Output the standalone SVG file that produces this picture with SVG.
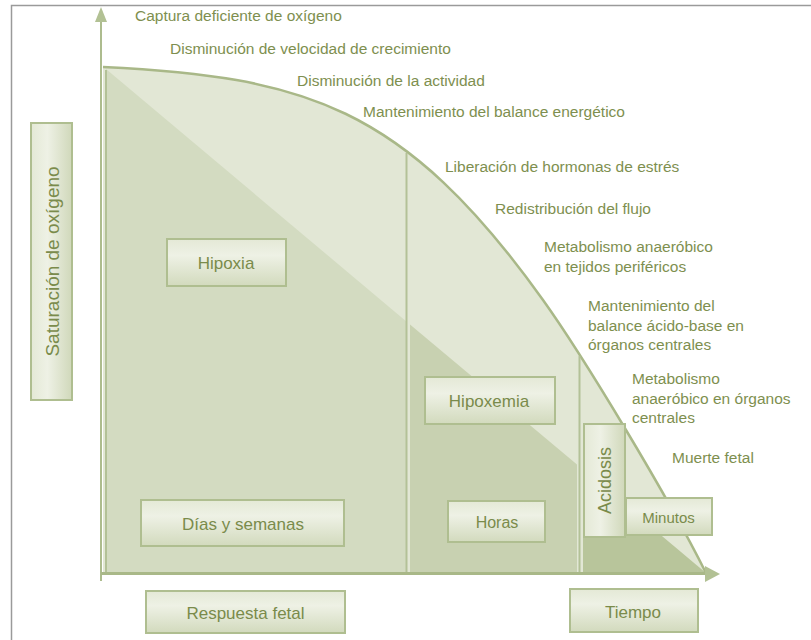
<svg xmlns="http://www.w3.org/2000/svg" width="811" height="640" viewBox="0 0 811 640">
  <defs>
    <linearGradient id="gH" x1="0" y1="0" x2="0" y2="1">
      <stop offset="0" stop-color="#e4e9d6"/>
      <stop offset="0.35" stop-color="#eef1e5"/>
      <stop offset="1" stop-color="#d2dabd"/>
    </linearGradient>
    <linearGradient id="gV" x1="0" y1="0" x2="1" y2="0">
      <stop offset="0" stop-color="#e4e9d6"/>
      <stop offset="0.4" stop-color="#eef1e5"/>
      <stop offset="1" stop-color="#d0d8ba"/>
    </linearGradient>
  </defs>
  <style>
    .note { font-family: "Liberation Sans", Arial, sans-serif; font-size: 15.5px; fill: #7e8f4f; }
    .lbl { font-family: "Liberation Sans", Arial, sans-serif; font-size: 17px; fill: #7a8b4b; text-anchor: middle; }
    .boxh { fill: url(#gH); stroke: #afbe90; stroke-width: 2; }
    .boxv { fill: url(#gV); stroke: #afbe90; stroke-width: 2; }
    .sep { stroke: #b3c197; stroke-width: 2; fill: none; }
    .curve { stroke: #a9b888; stroke-width: 2.5; fill: none; }
    .head { fill: #b2c194; }
  </style>

  <rect width="811" height="640" fill="#ffffff"/>
  <!-- frame -->
  <path d="M11.5,640 L11.5,5.5 L811,5.5" fill="none" stroke="#9a9a9a" stroke-width="1.5"/>

  <!-- shaded areas -->
  <g id="areas">
    <path d="M103,67 C303,77 403,104 543,300 C583,356 666,493 706,573 L103,573 Z" fill="#e2e7d5"/>
    <polygon points="106,69 407,322 407,573 106,573" fill="#d3dbc1"/>
    <polygon points="410,324.4 577,464.6 577,573 410,573" fill="#c8d1b1"/>
    <polygon points="583,469.7 706,573 583,573" fill="#b8c59b"/>
  </g>

  <g id="connectors">
    <path class="curve" d="M103,67 C303,77 403,104 543,300 C583,356 666,493 706,573"/>
    <line class="sep" x1="106" y1="70" x2="106" y2="573" stroke="#a5b582"/>
    <line class="sep" x1="406.5" y1="153" x2="406.5" y2="573"/>
    <line class="sep" x1="579.5" y1="356" x2="579.5" y2="573"/>
    <line x1="101" y1="581" x2="101" y2="20" stroke="#adbc8e" stroke-width="2"/>
    <polygon class="head" points="101,7 95,22 107,22"/>
    <line x1="101" y1="573.5" x2="706" y2="573.5" stroke="#a9b888" stroke-width="3"/>
    <polygon class="head" points="720,574 705,566 705,582"/>
  </g>

  <g id="notes">
    <text class="note" x="135" y="21">Captura deficiente de oxígeno</text>
    <text class="note" x="170" y="54">Disminución de velocidad de crecimiento</text>
    <text class="note" x="297" y="86">Disminución de la actividad</text>
    <text class="note" x="363" y="117">Mantenimiento del balance energético</text>
    <text class="note" x="445" y="172">Liberación de hormonas de estrés</text>
    <text class="note" x="495" y="214">Redistribución del flujo</text>
    <text class="note" x="544" y="252">Metabolismo anaeróbico</text>
    <text class="note" x="544" y="272">en tejidos periféricos</text>
    <text class="note" x="588" y="311">Mantenimiento del</text>
    <text class="note" x="588" y="331">balance ácido-base en</text>
    <text class="note" x="588" y="350">órganos centrales</text>
    <text class="note" x="632" y="384">Metabolismo</text>
    <text class="note" x="632" y="404">anaeróbico en órganos</text>
    <text class="note" x="632" y="423">centrales</text>
    <text class="note" x="672" y="463">Muerte fetal</text>
  </g>

  <g id="saturacion">
    <rect class="boxv" x="31" y="123" width="41" height="277"/>
    <text class="lbl" style="font-size:19px" transform="translate(58.5,261.5) rotate(-90)">Saturación de oxígeno</text>
  </g>
  <g id="hipoxia">
    <rect class="boxh" x="167" y="239" width="119" height="47"/>
    <text class="lbl" x="226" y="269">Hipoxia</text>
  </g>
  <g id="dias">
    <rect class="boxh" x="141" y="500" width="203" height="46"/>
    <text class="lbl" x="243" y="529.5">Días y semanas</text>
  </g>
  <g id="respuesta">
    <rect class="boxh" x="146" y="591" width="199" height="42"/>
    <text class="lbl" x="245.5" y="619">Respuesta fetal</text>
  </g>
  <g id="hipoxemia">
    <rect class="boxh" x="425" y="377" width="130" height="47"/>
    <text class="lbl" x="489" y="406.5">Hipoxemia</text>
  </g>
  <g id="horas">
    <rect class="boxh" x="448" y="501" width="97" height="41"/>
    <text class="lbl" style="font-size:16px" x="497" y="528">Horas</text>
  </g>
  <g id="acidosis">
    <rect class="boxv" x="584" y="424" width="41" height="113"/>
    <text class="lbl" style="font-size:18px" transform="translate(611,480.5) rotate(-90)">Acidosis</text>
  </g>
  <g id="minutos">
    <rect class="boxh" x="626" y="498" width="86" height="37"/>
    <text class="lbl" style="font-size:15px" x="668.5" y="522.5">Minutos</text>
  </g>
  <g id="tiempo">
    <rect class="boxh" x="570" y="589" width="128" height="43"/>
    <text class="lbl" x="633" y="617.5">Tiempo</text>
  </g>
</svg>
